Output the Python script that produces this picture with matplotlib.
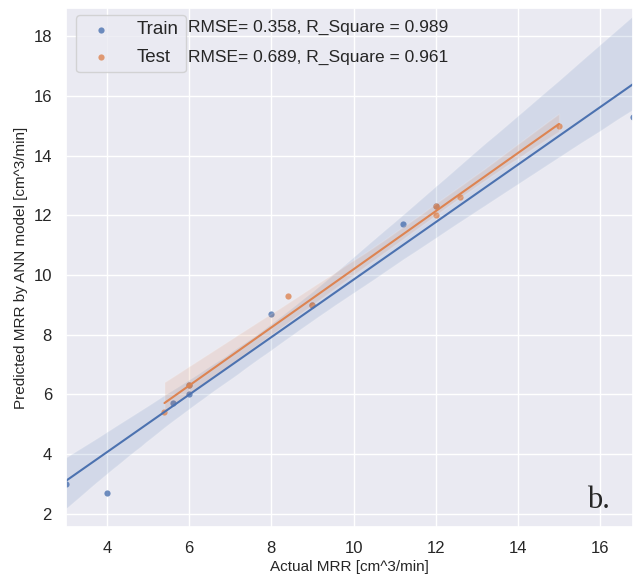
import matplotlib
matplotlib.use("Agg")
import matplotlib.pyplot as plt
import seaborn as sns
import numpy as np

# values
train_x = [3.0, 4.0, 5.6, 6.0, 6.0, 8.0, 9.0, 11.2, 12.0, 16.8]
train_y = [3.0, 2.7, 5.7, 6.0, 6.3, 8.7, 9.0, 11.7, 12.3, 15.3]
test_x = [5.4, 6.0, 8.4, 9.0, 12.0, 12.0, 12.6, 15.0]
test_y = [5.4, 6.3, 9.3, 9.0, 12.3, 12.0, 12.6, 15.0]
train_text = "RMSE= 0.358, R_Square = 0.989"
test_text = "RMSE= 0.689, R_Square = 0.961"

sns.set_theme(style="darkgrid")
plt.rcParams["font.family"] = ["Liberation Sans", "DejaVu Sans"]

fig = plt.figure(figsize=(6.33, 5.74), dpi=100)
ax = fig.add_axes([0.104, 0.082, 0.896, 0.904])

sns.regplot(x=np.array(train_x), y=np.array(train_y), ax=ax, label="Train", seed=3,
            scatter_kws={"s": 20, "linewidths": 0}, line_kws={"lw": 1.5})
sns.regplot(x=np.array(test_x), y=np.array(test_y), ax=ax, label="Test", seed=3,
            scatter_kws={"s": 20, "linewidths": 0}, line_kws={"lw": 1.5})

ax.set_xlim(3, 16.8)
ax.set_ylim(1.56, 18.94)
ax.set_xticks([4, 6, 8, 10, 12, 14, 16])
ax.set_yticks([2, 4, 6, 8, 10, 12, 14, 16, 18])
ax.tick_params(labelsize=12, pad=4)
ax.set_xlabel("Actual MRR [cm^3/min]", fontsize=11, labelpad=3)
ax.set_ylabel("Predicted MRR by ANN model [cm^3/min]", fontsize=11, labelpad=4)

ax.legend(loc="upper left", bbox_to_anchor=(0.018, 0.987), borderaxespad=0,
          fontsize=13.5, handlelength=2.0, handletextpad=0.9, labelspacing=0.55,
          borderpad=0.35)
ax.text(0.216, 0.963, train_text, transform=ax.transAxes, fontsize=12.5, va="center")
ax.text(0.216, 0.904, test_text, transform=ax.transAxes, fontsize=12.5, va="center")
ax.text(0.94, 0.05, "b.", transform=ax.transAxes, fontsize=22,
        family="Liberation Serif", ha="center", va="center")

fig.savefig("out.png", dpi=100)
